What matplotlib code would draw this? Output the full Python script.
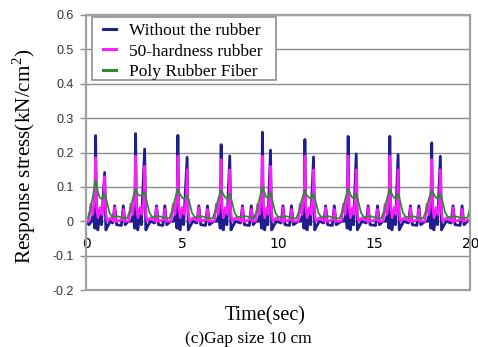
import matplotlib
matplotlib.use("Agg")
import matplotlib.pyplot as plt
from matplotlib.patches import Rectangle

plt.rcParams["mathtext.fontset"] = "custom"
plt.rcParams["mathtext.rm"] = "Liberation Serif"

# ---- data ----
blue_t = [0.0, 0.15, 0.28, 0.38, 0.45, 0.50, 0.55, 0.62, 0.70, 0.80, 0.97, 1.03, 1.12, 1.27, 1.39, 1.49, 1.59, 1.84, 1.94, 2.04, 2.20,
          2.36, 2.46, 2.53, 2.58, 2.63, 2.70, 2.78, 2.88, 3.05, 3.11, 3.20, 3.35, 3.57, 3.67, 3.77, 4.00, 4.10, 4.20, 4.40,
          4.56, 4.66, 4.73, 4.78, 4.83, 4.90, 4.98, 5.08, 5.26, 5.32, 5.41, 5.56, 5.77, 5.87, 5.97, 6.22, 6.32, 6.42, 6.65,
          6.81, 6.91, 6.98, 7.03, 7.08, 7.15, 7.23, 7.33, 7.48, 7.54, 7.63, 7.78, 8.04, 8.14, 8.24, 8.50, 8.60, 8.70, 8.85,
          8.96, 9.06, 9.13, 9.18, 9.23, 9.30, 9.38, 9.46, 9.60, 9.66, 9.75, 9.90, 10.15, 10.25, 10.35, 10.59, 10.69, 10.79, 11.05,
          11.17, 11.27, 11.34, 11.39, 11.44, 11.51, 11.59, 11.69, 11.84, 11.90, 11.99, 12.14, 12.37, 12.47, 12.57, 12.82, 12.92, 13.02, 13.30,
          13.42, 13.52, 13.59, 13.64, 13.69, 13.76, 13.84, 13.92, 14.06, 14.12, 14.21, 14.36, 14.58, 14.68, 14.78, 15.07, 15.17, 15.27, 15.45,
          15.59, 15.69, 15.76, 15.81, 15.86, 15.93, 16.01, 16.10, 16.24, 16.30, 16.39, 16.54, 16.78, 16.88, 16.98, 17.22, 17.32, 17.42, 17.65,
          17.77, 17.87, 17.94, 17.99, 18.04, 18.11, 18.19, 18.29, 18.44, 18.50, 18.59, 18.74, 19.00, 19.10, 19.20, 19.47, 19.57, 19.67, 19.85, 20.0]
blue_v = [0.0, -0.01, 0.0, 0.02, -0.02, 0.249, -0.02, -0.025, 0.02, -0.01, 0.142, -0.025, -0.015, 0.0, -0.005, 0.045, -0.01, -0.012, 0.045, -0.01, 0.0,
          0.0, 0.02, -0.02, 0.255, -0.02, -0.025, 0.02, -0.01, 0.21, -0.025, -0.015, 0.0, -0.005, 0.045, -0.01, -0.012, 0.045, -0.01, 0.0,
          0.0, 0.02, -0.02, 0.25, -0.02, -0.025, 0.02, -0.01, 0.186, -0.025, -0.015, 0.0, -0.005, 0.045, -0.01, -0.012, 0.045, -0.01, 0.0,
          0.0, 0.02, -0.02, 0.223, -0.02, -0.025, 0.02, -0.01, 0.19, -0.025, -0.015, 0.0, -0.005, 0.045, -0.01, -0.012, 0.045, -0.01, 0.0,
          0.0, 0.02, -0.02, 0.259, -0.02, -0.025, 0.02, -0.01, 0.207, -0.025, -0.015, 0.0, -0.005, 0.045, -0.01, -0.012, 0.045, -0.01, 0.0,
          0.0, 0.02, -0.02, 0.238, -0.02, -0.025, 0.02, -0.01, 0.187, -0.025, -0.015, 0.0, -0.005, 0.045, -0.01, -0.012, 0.045, -0.01, 0.0,
          0.0, 0.02, -0.02, 0.247, -0.02, -0.025, 0.02, -0.01, 0.196, -0.025, -0.015, 0.0, -0.005, 0.045, -0.01, -0.012, 0.045, -0.01, 0.0,
          0.0, 0.02, -0.02, 0.247, -0.02, -0.025, 0.02, -0.01, 0.194, -0.025, -0.015, 0.0, -0.005, 0.045, -0.01, -0.012, 0.045, -0.01, 0.0,
          0.0, 0.02, -0.02, 0.228, -0.02, -0.025, 0.02, -0.01, 0.189, -0.025, -0.015, 0.0, -0.005, 0.045, -0.01, -0.012, 0.045, -0.01, 0.0, 0.005]

mag_t = [0.0, 0.15, 0.25, 0.35, 0.46, 0.50, 0.55, 0.62, 0.72, 0.82, 0.93, 0.97, 1.02, 1.09, 1.27, 1.44, 1.49, 1.55, 1.89, 1.94, 2.00,
         2.23, 2.33, 2.43, 2.54, 2.58, 2.63, 2.70, 2.80, 2.90, 3.01, 3.05, 3.10, 3.17, 3.35, 3.62, 3.67, 3.73, 4.05, 4.10, 4.16,
         4.43, 4.53, 4.63, 4.74, 4.78, 4.83, 4.90, 5.00, 5.10, 5.22, 5.26, 5.31, 5.38, 5.56, 5.82, 5.87, 5.93, 6.27, 6.32, 6.38,
         6.68, 6.78, 6.88, 6.99, 7.03, 7.08, 7.15, 7.25, 7.35, 7.44, 7.48, 7.53, 7.60, 7.78, 8.09, 8.14, 8.20, 8.55, 8.60, 8.66,
         8.83, 8.93, 9.03, 9.14, 9.18, 9.23, 9.30, 9.40, 9.48, 9.56, 9.60, 9.65, 9.72, 9.90, 10.20, 10.25, 10.31, 10.64, 10.69, 10.75,
         11.04, 11.14, 11.24, 11.35, 11.39, 11.44, 11.51, 11.61, 11.71, 11.80, 11.84, 11.89, 11.96, 12.14, 12.42, 12.47, 12.53, 12.87, 12.92, 12.98,
         13.29, 13.39, 13.49, 13.60, 13.64, 13.69, 13.76, 13.86, 13.94, 14.02, 14.06, 14.11, 14.18, 14.36, 14.63, 14.68, 14.74, 15.12, 15.17, 15.23,
         15.46, 15.56, 15.66, 15.77, 15.81, 15.86, 15.93, 16.03, 16.12, 16.20, 16.24, 16.29, 16.36, 16.54, 16.83, 16.88, 16.94, 17.27, 17.32, 17.38,
         17.64, 17.74, 17.84, 17.95, 17.99, 18.04, 18.11, 18.21, 18.31, 18.40, 18.44, 18.49, 18.56, 18.74, 19.05, 19.10, 19.16, 19.52, 19.57, 19.63, 20.0]
mag_v = [0.0, 0.0, 0.05, 0.02, 0.08, 0.185, 0.04, 0.01, 0.04, 0.02, 0.07, 0.13, 0.03, 0.0, 0.01, 0.0, 0.04, 0.0, 0.005, 0.035, 0.0,
         0.0, 0.05, 0.02, 0.08, 0.19, 0.04, 0.01, 0.04, 0.02, 0.07, 0.16, 0.03, 0.0, 0.01, 0.0, 0.04, 0.0, 0.005, 0.035, 0.0,
         0.0, 0.05, 0.02, 0.08, 0.19, 0.04, 0.01, 0.04, 0.02, 0.07, 0.15, 0.03, 0.0, 0.01, 0.0, 0.04, 0.0, 0.005, 0.035, 0.0,
         0.0, 0.05, 0.02, 0.08, 0.18, 0.04, 0.01, 0.04, 0.02, 0.07, 0.15, 0.03, 0.0, 0.01, 0.0, 0.04, 0.0, 0.005, 0.035, 0.0,
         0.0, 0.05, 0.02, 0.08, 0.19, 0.04, 0.01, 0.04, 0.02, 0.07, 0.16, 0.03, 0.0, 0.01, 0.0, 0.04, 0.0, 0.005, 0.035, 0.0,
         0.0, 0.05, 0.02, 0.08, 0.19, 0.04, 0.01, 0.04, 0.02, 0.07, 0.15, 0.03, 0.0, 0.01, 0.0, 0.04, 0.0, 0.005, 0.035, 0.0,
         0.0, 0.05, 0.02, 0.08, 0.19, 0.04, 0.01, 0.04, 0.02, 0.07, 0.15, 0.03, 0.0, 0.01, 0.0, 0.04, 0.0, 0.005, 0.035, 0.0,
         0.0, 0.05, 0.02, 0.08, 0.19, 0.04, 0.01, 0.04, 0.02, 0.07, 0.15, 0.03, 0.0, 0.01, 0.0, 0.04, 0.0, 0.005, 0.035, 0.0,
         0.0, 0.05, 0.02, 0.08, 0.18, 0.04, 0.01, 0.04, 0.02, 0.07, 0.15, 0.03, 0.0, 0.01, 0.0, 0.04, 0.0, 0.005, 0.035, 0.0, 0.005]

green_t = [0.0, 0.1, 0.2, 0.35, 0.50, 0.60, 0.70, 0.82, 0.97, 1.07, 1.22, 1.37, 1.60, 1.90,
           2.13, 2.28, 2.43, 2.58, 2.68, 2.78, 2.90, 3.05, 3.15, 3.30, 3.45, 3.80, 4.10,
           4.33, 4.48, 4.63, 4.78, 4.88, 4.98, 5.10, 5.26, 5.36, 5.51, 5.66, 6.00, 6.30,
           6.58, 6.73, 6.88, 7.03, 7.13, 7.23, 7.35, 7.48, 7.58, 7.73, 7.88, 8.30, 8.60,
           8.73, 8.88, 9.03, 9.18, 9.28, 9.38, 9.48, 9.60, 9.70, 9.85, 10.00, 10.40, 10.70,
           10.94, 11.09, 11.24, 11.39, 11.49, 11.59, 11.71, 11.84, 11.94, 12.09, 12.24, 12.60, 12.90,
           13.19, 13.34, 13.49, 13.64, 13.74, 13.84, 13.94, 14.06, 14.16, 14.31, 14.46, 14.80, 15.10,
           15.36, 15.51, 15.66, 15.81, 15.91, 16.01, 16.12, 16.24, 16.34, 16.49, 16.64, 17.00, 17.30,
           17.54, 17.69, 17.84, 17.99, 18.09, 18.19, 18.31, 18.44, 18.54, 18.69, 18.84, 19.20, 19.50, 19.85, 19.95, 20.0]
green_v = [0.005, 0.01, 0.03, 0.07, 0.12, 0.09, 0.07, 0.065, 0.08, 0.06, 0.025, 0.012, 0.015, 0.01,
           0.008, 0.03, 0.065, 0.095, 0.08, 0.075, 0.075, 0.085, 0.06, 0.025, 0.012, 0.015, 0.01,
           0.008, 0.03, 0.065, 0.095, 0.08, 0.07, 0.065, 0.075, 0.06, 0.025, 0.012, 0.015, 0.01,
           0.008, 0.03, 0.065, 0.09, 0.08, 0.07, 0.065, 0.08, 0.06, 0.025, 0.012, 0.015, 0.01,
           0.008, 0.03, 0.065, 0.10, 0.085, 0.07, 0.07, 0.085, 0.06, 0.025, 0.012, 0.015, 0.01,
           0.008, 0.03, 0.065, 0.09, 0.075, 0.07, 0.065, 0.08, 0.06, 0.025, 0.012, 0.015, 0.01,
           0.008, 0.03, 0.065, 0.095, 0.08, 0.07, 0.065, 0.08, 0.06, 0.025, 0.012, 0.015, 0.01,
           0.008, 0.03, 0.065, 0.095, 0.08, 0.07, 0.065, 0.08, 0.06, 0.025, 0.012, 0.015, 0.01,
           0.008, 0.03, 0.065, 0.09, 0.08, 0.07, 0.065, 0.08, 0.06, 0.025, 0.012, 0.015, 0.01, 0.01, 0.03, 0.056]

series_names = ["Without the rubber", "50-hardness rubber", "Poly Rubber Fiber"]
x_ticks = [0, 5, 10, 15, 20]
y_ticks = [-0.2, -0.1, 0, 0.1, 0.2, 0.3, 0.4, 0.5, 0.6]
y_labels = ["-0.2", "-0.1", "0", "0.1", "0.2", "0.3", "0.4", "0.5", "0.6"]

# ---- drawing ----
fig = plt.figure(figsize=(4.78, 3.47), dpi=100)
ax = fig.add_axes([0.180, 0.164, 0.804, 0.793])

c_blue, c_mag, c_green = "#1e1e8c", "#ff1aff", "#2e8b2e"
ax.plot(blue_t, blue_v, color=c_blue, lw=2.0, label=series_names[0], zorder=3)
ax.plot(mag_t, mag_v, color=c_mag, lw=1.8, label=series_names[1], zorder=4)
ax.plot(green_t, green_v, color=c_green, lw=1.3, label=series_names[2], zorder=5)

ax.set_xlim(0, 20)
ax.set_ylim(-0.2, 0.6)
ax.set_yticks(y_ticks)
ax.set_yticklabels(y_labels, fontsize=9, family="Liberation Sans", color="#333333")
ax.set_xticks(x_ticks)
ax.set_xticklabels([str(v) for v in x_ticks], fontsize=9, family="Liberation Sans", color="#333333")
ax.grid(axis="y", color="#8c8c8c", lw=1.0)
ax.set_axisbelow(True)

for s in ["top", "right", "left"]:
    ax.spines[s].set_visible(False)
ax.spines["bottom"].set_position(("data", 0))
ax.spines["bottom"].set_color("#8c8c8c")
ax.tick_params(axis="x", length=0, pad=11)
ax.tick_params(axis="y", length=4, color="#8c8c8c", width=1.0, pad=5)
ax.add_patch(Rectangle((0, 0), 1, 1, transform=ax.transAxes, fill=False,
                       edgecolor="#a0a0a0", lw=1.6, clip_on=False, zorder=6))

# legend box (wider than its text, as in the reference)
ax.add_patch(Rectangle((0.0156, 0.763), 0.478, 0.229, transform=ax.transAxes,
                       facecolor="white", edgecolor="#909090", lw=1.2, zorder=7))
leg = ax.legend(loc="upper left", bbox_to_anchor=(0.036, 0.983), borderaxespad=0,
                prop={"family": "Liberation Serif", "size": 12.5},
                handlelength=0.7, handletextpad=0.8, borderpad=0.2, labelspacing=0.24,
                frameon=False)
leg.set_zorder(8)
for h in leg.get_lines():
    h.set_linewidth(2.2)

fig.text(0.05, 0.55, "Response stress(kN/cm$^2$)", rotation=90, ha="center", va="center",
         family="Liberation Serif", fontsize=15.3)
fig.text(0.554, 0.089, "Time(sec)", ha="center", va="center", family="Liberation Serif", fontsize=14.5)
fig.text(0.52, 0.024, "(c)Gap size 10 cm", ha="center", va="center", family="Liberation Serif", fontsize=12.5)

fig.savefig("out.png", dpi=100)
